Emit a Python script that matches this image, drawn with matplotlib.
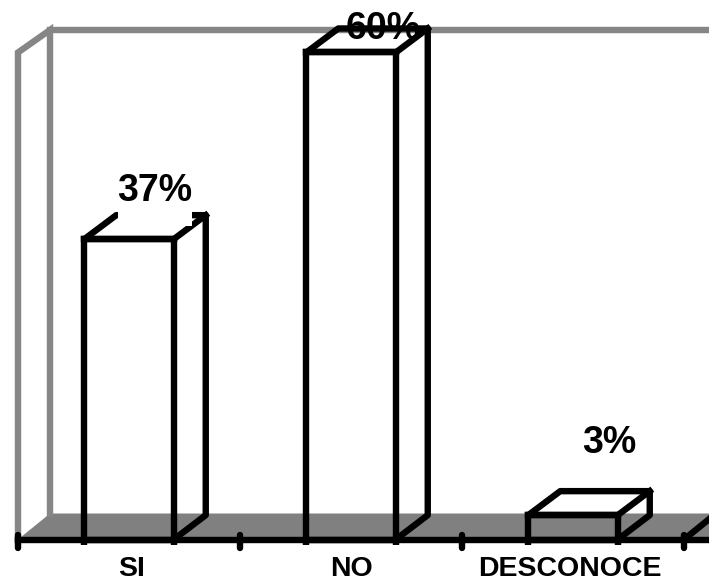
import matplotlib
matplotlib.use("Agg")
import matplotlib.pyplot as plt
from matplotlib.patches import Polygon, Rectangle

categories = ["SI", "NO", "DESCONOCE"]
values = [37, 60, 3]
labels = ["37%", "60%", "3%"]
label_offsets = [(26, 48), (32, 23), (36, 72)]  # px from bar centre/top
tick_label_shift = [3, 0, -3]  # px

W, H = 709, 586
BASE, UNIT = 539.5, 8.117
X0, STEP = 129.0, 222.0
BAR_W = 89.5 / STEP
DX = 32 / STEP
DY = 24 / UNIT
WALL_DY = 22.5 / UNIT
FLOOR_DY = 26 / UNIT
LW = 6.4 * 72 / 100
BLACK, GREY, FLOOR = "#000000", "#868686", "#808080"

plt.rcParams["font.family"] = ["Liberation Sans", "DejaVu Sans"]
fig = plt.figure(figsize=(W / 100, H / 100), dpi=100)
ax = fig.add_axes([0, 0, 1, 1])
ax.set_xlim(-X0 / STEP, (W - X0) / STEP)
ax.set_ylim((BASE - H) / UNIT, BASE / UNIT)
ax.axis("off")

top = max(values)
edges = [-0.5, 0.5, 1.5, 2.5]
left = edges[0]
right = edges[-1]

# floor and walls
ax.add_patch(Polygon([(left, 0), (left + DX, FLOOR_DY), (3, FLOOR_DY), (3, 0)], closed=True,
                     fc=FLOOR, ec="none", zorder=1))
ax.plot([left, left, left + DX, left + DX], [0, top, top + WALL_DY, FLOOR_DY],
        color=GREY, lw=LW, solid_joinstyle="miter", zorder=2)
ax.plot([left + DX, 3], [top + WALL_DY, top + WALL_DY], color=GREY, lw=LW, zorder=2)

# axis line, ticks, right floor edge
ax.plot([left, 3], [0, 0], color=BLACK, lw=LW, zorder=3)
ax.plot([right, right + DX], [0, FLOOR_DY], color=BLACK, lw=LW, zorder=3)
for e in edges:
    ax.plot([e, e], [0.6, -1.0], color=BLACK, lw=LW, solid_capstyle="round", zorder=3)

# bars: open front, side and top outlines
ax.bar(range(3), values, width=BAR_W, fill=False, edgecolor=BLACK, lw=LW, zorder=4)
for i, v in enumerate(values):
    a, b = i - BAR_W / 2, i + BAR_W / 2
    ax.plot([a, b], [v, v], color=BLACK, lw=LW, solid_capstyle="projecting", zorder=4)
    ax.plot([a, a], [0, -0.7], color=BLACK, lw=LW, solid_capstyle="butt", zorder=4)
    ax.plot([b, b], [0, -0.7], color=BLACK, lw=LW, solid_capstyle="butt", zorder=4)
    ax.plot([a, a + DX, b + DX, b + DX, b], [v, v + DY, v + DY, FLOOR_DY - 0.2, 0],
            color=BLACK, lw=LW, solid_joinstyle="round", solid_capstyle="round", zorder=4)
    ax.plot([b, b + DX], [v, v + DY], color=BLACK, lw=LW, zorder=4)

# white box behind the first label hides part of the bar's back edge
ax.add_patch(Rectangle((-0.05, values[0] + 1.6), 74 / STEP, 48 / UNIT,
                       fc="white", ec="none", zorder=5))

for i, (v, t, off) in enumerate(zip(values, labels, label_offsets)):
    ax.annotate(t, xy=(i, v), xytext=off, textcoords="offset pixels", ha="center",
                va="center", fontsize=27, fontweight="bold", color=BLACK, zorder=6)
for i, c in enumerate(categories):
    ax.text(i + tick_label_shift[i] / STEP, -30 / UNIT, c, ha="center", va="center",
            fontsize=20.5, fontweight="bold", color=BLACK, zorder=6)

fig.savefig("out.png", dpi=100)
